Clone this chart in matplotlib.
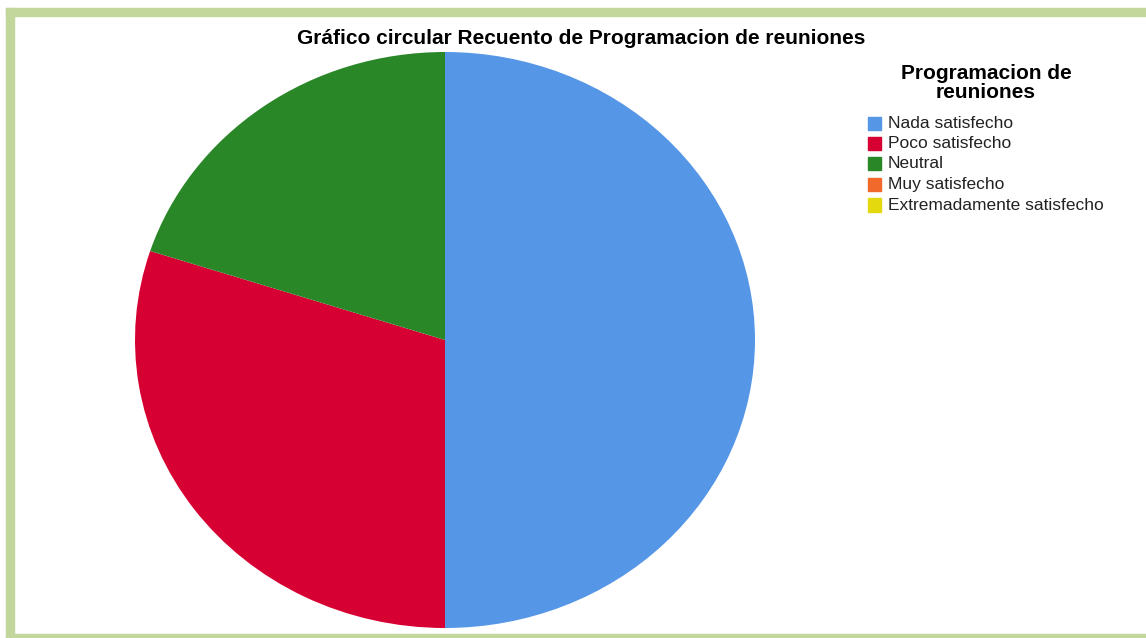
import matplotlib
matplotlib.use("Agg")
import matplotlib.pyplot as plt
from matplotlib.patches import Rectangle

categories = ["Nada satisfecho", "Poco satisfecho", "Neutral", "Muy satisfecho", "Extremadamente satisfecho"]
counts = [5, 3, 2, 0, 0]
colors = ["#5596e6", "#d60032", "#2a8728", "#f26a2b", "#e4d90f"]
title = "Gráfico circular Recuento de Programacion de reuniones"
legend_title = "Programacion de\nreuniones"

W, H = 1146, 638
fig = plt.figure(figsize=(W / 100, H / 100), dpi=100)
plt.rcParams['font.family'] = ['Liberation Sans', 'DejaVu Sans']

def fx(px):
    return px / W

def fy(py):
    return 1 - py / H

# border
border_col = "#c3d69b"
fig.patches.append(Rectangle((fx(6), fy(638)), fx(8), fy(8) - fy(638), transform=fig.transFigure, color=border_col, zorder=0))
fig.patches.append(Rectangle((fx(6), fy(16)), 1, fy(8) - fy(16), transform=fig.transFigure, color=border_col, zorder=0))
fig.patches.append(Rectangle((fx(6), fy(638)), 1, fy(634) - fy(638), transform=fig.transFigure, color=border_col, zorder=0))

# pie (ellipse)
cx, cy, rx, ry = 445, 340, 310, 288
ax = fig.add_axes([fx(cx - rx), fy(cy + ry), fx(2 * rx), fy(cy - ry) - fy(cy + ry)])
ax.pie(counts, colors=colors, startangle=90, counterclock=False, radius=1,
       wedgeprops=dict(linewidth=0))
ax.set_aspect('auto')
ax.set_xlim(-1, 1)
ax.set_ylim(-1, 1)
ax.axis('off')

# title
fig.text(fx(581), fy(38), title, ha='center', va='center', fontsize=15, fontweight='bold')

# legend
fig.text(fx(986), fy(83), legend_title, ha='center', va='center', fontsize=15,
         fontweight='bold', linespacing=1.02)
y0, dy = 123, 20.5
for i, (lab, col) in enumerate(zip(categories, colors)):
    y = y0 + i * dy
    fig.patches.append(Rectangle((fx(868), fy(y + 6.5)), fx(13), fy(y - 6.5) - fy(y + 6.5),
                                 transform=fig.transFigure, color=col))
    fig.text(fx(888), fy(y), lab, ha='left', va='center', fontsize=12.5, color='#222222')

fig.savefig("out.png", dpi=100)
